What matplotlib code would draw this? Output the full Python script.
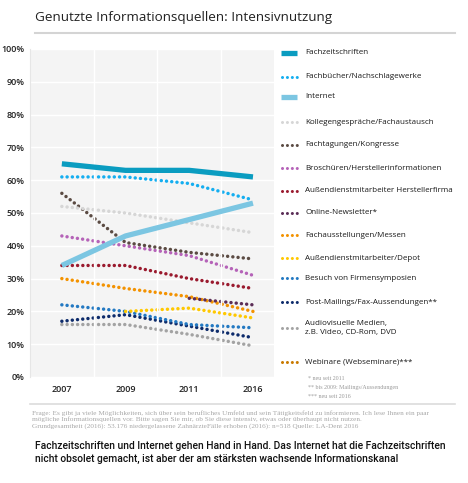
import matplotlib.pyplot as plt
import numpy as np
from matplotlib.lines import Line2D

nan = np.nan
years = ['2007', '2009', '2011', '2016']

fachzeitschriften = [65, 63, 63, 61]
fachbuecher = [61, 61, 59, 54]
internet = [34, 43, 48, 53]
kollegen = [52, 50, 47, 44]
fachtagungen = [56, 41, 38, 36]
broschueren = [43, 40, 37, 31]
aussendienst_hersteller = [34, 34, 30, 27]
newsletter = [nan, nan, 24, 22]
fachausstellungen = [30, 27, 24.5, 20]
aussendienst_depot = [nan, 20, 21, 18]
symposien = [22, 20, 16, 15]
post_mailings = [17, 19, 15.5, 12]
audiovisuell = [16, 16, 13, 9.5]
webinare = [nan, nan, nan, 20]

labels = ['Fachzeitschriften', 'Fachbücher/Nachschlagewerke', 'Internet',
          'Kollegengespräche/Fachaustausch', 'Fachtagungen/Kongresse',
          'Broschüren/Herstellerinformationen', 'Außendienstmitarbeiter Herstellerfirma',
          'Online-Newsletter*', 'Fachausstellungen/Messen', 'Außendienstmitarbeiter/Depot',
          'Besuch von Firmensymposien', 'Post-Mailings/Fax-Aussendungen**',
          'Audiovisuelle Medien,\nz.B. Video, CD-Rom, DVD', 'Webinare (Webseminare)***']
values = [fachzeitschriften, fachbuecher, internet, kollegen, fachtagungen, broschueren,
          aussendienst_hersteller, newsletter, fachausstellungen, aussendienst_depot,
          symposien, post_mailings, audiovisuell, webinare]
colors = ['#0a9cc0', '#14aef0', '#7cc6e2', '#d6d6d6', '#5b4b43', '#b563b8',
          '#9a1a2e', '#5b2d56', '#f39200', '#ffc800', '#2379c2', '#0d2b6b',
          '#a3a3a3', '#c97a00']
solid = [True, False, True] + [False] * 11

plt.rcParams['font.family'] = ['Open Sans', 'DejaVu Sans']

fig = plt.figure(figsize=(4.68, 4.83), dpi=100)
ax = fig.add_axes([30/468, 1-377/483, 244/468, 328/483])
ax.set_facecolor('#f4f4f4')

x = np.arange(len(years))
# draw dotted first so solid lines sit on top
order = [i for i in range(len(values)) if not solid[i]][::-1] + [i for i in range(len(values)) if solid[i]][::-1]
for i in order:
    if solid[i]:
        ax.plot(x, values[i], color=colors[i], lw=3.8, solid_capstyle='butt', zorder=3)
    else:
        ax.plot(x, values[i], color=colors[i], lw=2.5, linestyle=(0, (0.01, 1.5)),
                dash_capstyle='round', zorder=2)

ax.set_xlim(-0.5, 3.33)
ax.set_ylim(0, 100)
ax.set_yticks(np.arange(0, 101, 10))
ax.set_yticklabels(['%d%%' % v for v in range(0, 101, 10)], fontsize=6.5, color='#222222',
                   fontweight='semibold')
ax.set_xticks(x)
ax.set_xticklabels(years, fontsize=6.5, color='#222222', fontweight='semibold')
ax.tick_params(length=0, pad=4)
ax.tick_params(axis='x', pad=6)
ax.yaxis.grid(True, color='white', lw=1)
for xv in [0.5, 1.5, 2.5]:
    ax.axvline(xv, color='white', lw=1)
for s in ['top', 'right', 'bottom']:
    ax.spines[s].set_visible(False)
ax.spines['left'].set_color('#e6e6e6')
ax.set_axisbelow(True)

# title
fig.text(35/468, 1-17/483, 'Genutzte Informationsquellen: Intensivnutzung', fontsize=9.7,
         color='#222222', va='center', ha='left')
fig.add_artist(Line2D([35/468, 455/468], [1-33/483, 1-33/483], color='#d4d4d4', lw=1.5))

# legend
leg_y = [53, 77, 97, 122, 145, 168, 191, 213, 235, 258, 278, 302, 328, 362]
for i, lab in enumerate(labels):
    yy = 1 - leg_y[i]/483
    if solid[i]:
        fig.add_artist(Line2D([281/468, 297/468], [yy, yy], color=colors[i], lw=3.8,
                              solid_capstyle='butt'))
    else:
        fig.add_artist(Line2D([282/468, 297/468], [yy, yy], color=colors[i], lw=2.2,
                              linestyle=(0, (0.01, 1.6)), dash_capstyle='round'))
    fig.text(305/468, yy, lab, fontsize=5.8, color='#1a1a1a', va='center', ha='left',
             linespacing=1.5)

notes = ['* neu seit 2011', '** bis 2009: Mailings/Aussendungen', '*** neu seit 2016']
for k, n in enumerate(notes):
    fig.text(308/468, 1-(379 + 8.5*k)/483, n, fontsize=4.3, color='#9a9a9a',
             family='Liberation Serif', va='center', ha='left')

fig.add_artist(Line2D([30/468, 455/468], [1-404/483, 1-404/483], color='#dcdcdc', lw=1.2))

source = ('Frage: Es gibt ja viele Möglichkeiten, sich über sein berufliches Umfeld und sein Tätigkeitsfeld zu informieren. Ich lese Ihnen ein paar\n'
          'mögliche Informationsquellen vor. Bitte sagen Sie mir, ob Sie diese intensiv, etwas oder überhaupt nicht nutzen.\n'
          'Grundgesamtheit (2016): 53.176 niedergelassene ZahnärzteFälle erhoben (2016): n=518 Quelle: LA-Dent 2016')
fig.text(32/468, 1-410/483, source, fontsize=5.2, color='#a8a8a8', family='Liberation Serif',
         va='top', ha='left', linespacing=1.25)

caption = ('Fachzeitschriften und Internet gehen Hand in Hand. Das Internet hat die Fachzeitschriften\n'
           'nicht obsolet gemacht, ist aber der am stärksten wachsende Informationskanal')
fig.text(35/468, 1-441/483, caption, fontsize=7.4, color='#111111', fontweight='medium',
         family=['Roboto', 'DejaVu Sans'], va='top', ha='left', linespacing=1.4)

fig.savefig('out.png', dpi=100)
